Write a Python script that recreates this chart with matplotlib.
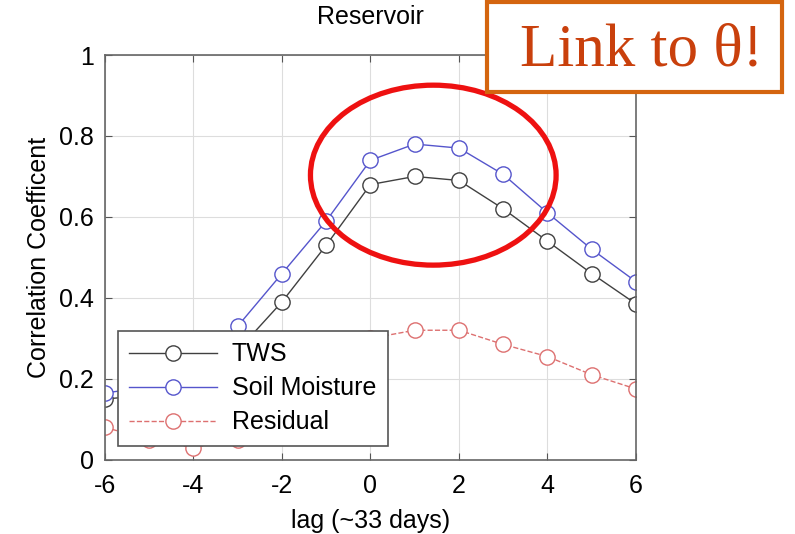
import matplotlib.pyplot as plt
from matplotlib.patches import Ellipse, Rectangle

# lag values (units of ~33 days)
lags = [-6, -5, -4, -3, -2, -1, 0, 1, 2, 3, 4, 5, 6]

# correlation coefficients
tws = [0.15, 0.16, 0.20, 0.27, 0.39, 0.53, 0.68, 0.70, 0.69, 0.62, 0.54, 0.46, 0.385]
soil_moisture = [0.165, 0.18, 0.23, 0.33, 0.46, 0.59, 0.74, 0.78, 0.77, 0.705, 0.61, 0.52, 0.44]
residual = [0.08, 0.05, 0.03, 0.05, 0.13, 0.21, 0.30, 0.32, 0.32, 0.285, 0.255, 0.21, 0.175]

plt.rcParams['font.family'] = ['Liberation Sans', 'DejaVu Sans']
plt.rcParams['axes.unicode_minus'] = False

fig = plt.figure(figsize=(7.95, 5.34), dpi=100)
ax = fig.add_axes([0.132, 0.139, 0.668, 0.758])

ax.plot(lags, tws, '-o', color='#404040', lw=1.0, ms=11, mfc='white', mec='#404040', mew=1.0, label='TWS')
ax.plot(lags, soil_moisture, '-o', color='#5555cc', lw=1.0, ms=11, mfc='white', mec='#5555cc', mew=1.0, label='Soil Moisture')
ax.plot(lags, residual, '--o', color='#dd7070', lw=1.0, ms=11, mfc='white', mec='#dd7070', mew=1.0, label='Residual')

ax.set_xlim(-6, 6)
ax.set_ylim(0, 1)
ax.set_xticks([-6, -4, -2, 0, 2, 4, 6])
ax.set_yticks([0, 0.2, 0.4, 0.6, 0.8, 1])
ax.set_yticklabels(['0', '0.2', '0.4', '0.6', '0.8', '1'])
ax.tick_params(direction='in', top=True, right=True, labelsize=18, length=5, color='#555555')
ax.tick_params(axis='x', pad=10)
ax.tick_params(axis='y', pad=8)
ax.grid(True, color='#dddddd', lw=0.8)
for s in ax.spines.values():
    s.set_color('#666666')
    s.set_linewidth(1.2)

ax.set_xlabel('lag (~33 days)', fontsize=18, labelpad=8)
ax.set_ylabel('Correlation Coefficent', fontsize=18, labelpad=6)
ax.set_title('Reservoir', fontsize=18, pad=22)

leg = ax.legend(loc='lower left', bbox_to_anchor=(0.025, 0.035), fontsize=18, fancybox=False,
                framealpha=1, edgecolor='#555555', handlelength=3.5, handletextpad=0.6,
                borderpad=0.45, labelspacing=0.4, borderaxespad=0)
leg.get_frame().set_linewidth(1.2)

# annotation overlays
fig.patches.append(Ellipse((0.545, 0.672), 0.309, 0.337, transform=fig.transFigure,
                           fill=False, edgecolor='#ee1111', lw=3.8, zorder=10))
fig.patches.append(Rectangle((0.613, 0.828), 0.371, 0.168, transform=fig.transFigure,
                             facecolor='white', edgecolor='#d4650f', lw=3.0, zorder=10))
fig.text(0.807, 0.905, 'Link to θ!', ha='center', va='center', fontsize=44,
         family=['Liberation Serif', 'DejaVu Serif'], color='#c9400c', zorder=11)

fig.savefig('out.png', dpi=100)
